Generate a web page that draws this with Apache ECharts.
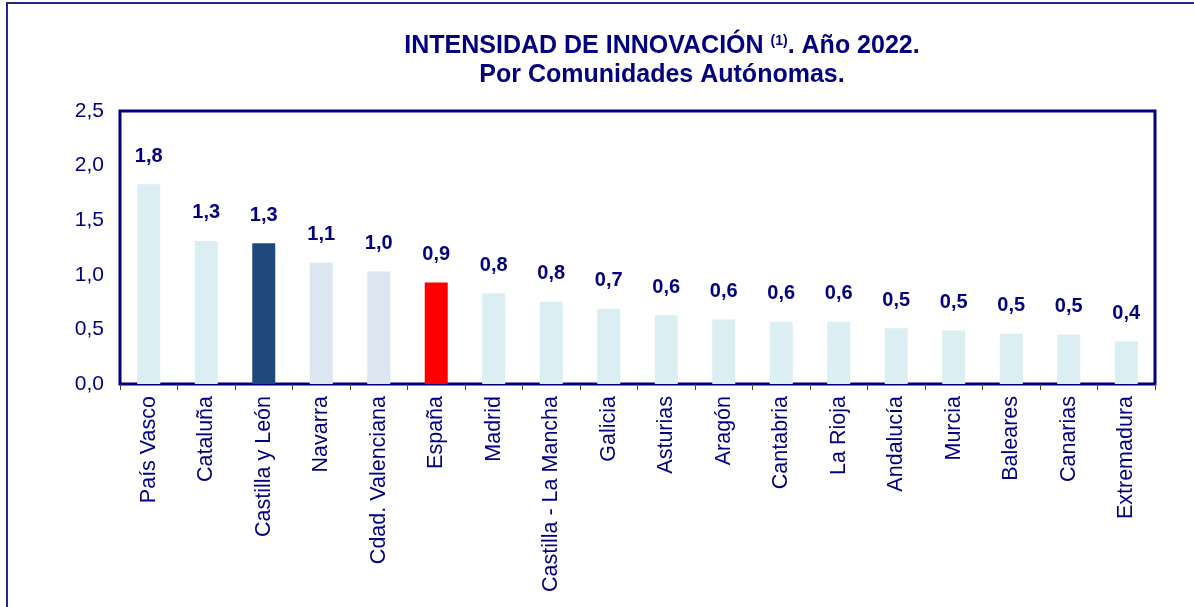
<!DOCTYPE html>
<html>
<head>
<meta charset="utf-8">
<style>
  html, body { margin: 0; padding: 0; background: #fff; }
  .frame {
    position: absolute; left: 6px; top: 2px; width: 1200px; height: 620px;
    border-left: 2px solid #26268c; border-top: 2px solid #26268c;
  }
  #main { position: absolute; left: 0; top: 0; width: 1194px; height: 607px; }
</style>
<script src="https://cdn.jsdelivr.net/npm/echarts@6/dist/echarts.min.js"></script>
</head>
<body>
<div class="frame"></div>
<div id="main"></div>
<script>
// categorias y valores
var regiones = ['País Vasco', 'Cataluña', 'Castilla y León', 'Navarra', 'Cdad. Valenciana', 'España',
  'Madrid', 'Castilla - La Mancha', 'Galicia', 'Asturias', 'Aragón', 'Cantabria', 'La Rioja',
  'Andalucía', 'Murcia', 'Baleares', 'Canarias', 'Extremadura']
var intensidad = [1.83, 1.31, 1.29, 1.11, 1.03, 0.93, 0.83, 0.753, 0.69, 0.63, 0.59, 0.57, 0.57,
  0.51, 0.49, 0.46, 0.453, 0.39]
var yTicks = [0, 0.5, 1, 1.5, 2, 2.5]

var navy = '#000080'
var fuente = 'Liberation Sans, Arial'
var colorBase = '#daeef3'
var colorDestacado = {
  'Castilla y León': '#1f497d',
  'Navarra': '#dce6f1',
  'Cdad. Valenciana': '#dce6f1',
  'España': '#ff0000'
}
var coma = function (v) { return String(v).replace('.', ',') }

var myChart = echarts.init(document.getElementById('main'))
myChart.setOption({
  animation: false,
  title: {
    left: 657,
    top: 27,
    textAlign: 'center',
    text: '{a|INTENSIDAD DE INNOVACIÓN }{s|(1)}{a|. Año 2022.}\n{a|Por Comunidades Autónomas.}',
    textStyle: {
      rich: {
        a: { fontFamily: fuente, fontWeight: 'bold', fontSize: 25, color: navy, lineHeight: 29 },
        s: { fontFamily: fuente, fontWeight: 'bold', fontSize: 14, color: navy, lineHeight: 29, padding: [0, 0, 10, 0] }
      }
    }
  },
  grid: {
    left: 120,
    right: 39,
    top: 111,
    bottom: 223,
    show: true,
    borderColor: navy,
    borderWidth: 3
  },
  xAxis: {
    type: 'category',
    data: regiones,
    axisLine: { lineStyle: { color: navy, width: 2 } },
    axisTick: { show: true, length: 6, lineStyle: { color: '#444' } },
    axisLabel: {
      rotate: 90,
      interval: 0,
      margin: 12,
      color: navy,
      fontFamily: fuente,
      fontSize: 21.5
    }
  },
  yAxis: {
    type: 'value',
    min: yTicks[0],
    max: yTicks[yTicks.length - 1],
    interval: 0.5,
    splitLine: { show: false },
    axisLine: { show: true, lineStyle: { color: navy, width: 2 } },
    axisTick: { show: false },
    axisLabel: {
      margin: 16,
      color: navy,
      fontFamily: fuente,
      fontSize: 21,
      formatter: function (v) { return coma(v.toFixed(1)) }
    }
  },
  series: [{
    type: 'bar',
    barWidth: 23,
    data: intensidad.map(function (v, i) {
      return { value: v, itemStyle: { color: colorDestacado[regiones[i]] || colorBase } }
    }),
    label: {
      show: true,
      position: 'top',
      distance: 18,
      color: navy,
      fontFamily: fuente,
      fontWeight: 'bold',
      fontSize: 20,
      formatter: function (p) { return coma(p.value.toFixed(1)) }
    }
  }]
})
</script>
</body>
</html>
